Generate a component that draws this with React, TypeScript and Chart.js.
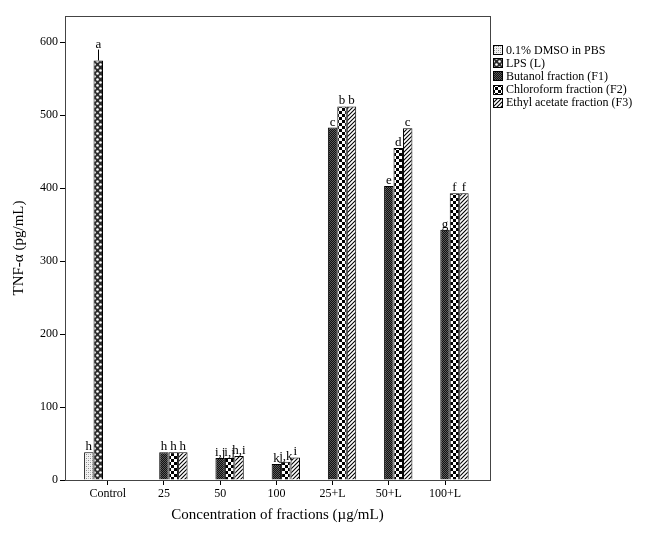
import React, { useEffect, useRef } from 'react';
import { Chart, registerables } from 'chart.js';
Chart.register(...registerables);

const categories = ['Control', '25', '50', '100', '25+L', '50+L', '100+L'];
const seriesNames = [
  '0.1% DMSO in PBS',
  'LPS (L)',
  'Butanol fraction (F1)',
  'Chloroform fraction (F2)',
  'Ethyl acetate fraction (F3)',
];
const dmsoValues = [38, null, null, null, null, null, null];
const lpsValues = [575, null, null, null, null, null, null];
const f1Values = [null, 38, 30, 22, 483, 403, 343];
const f2Values = [null, 38, 30, 25, 512, 455, 393];
const f3Values = [null, 38, 33, 31, 512, 482, 393];
const dmsoErrors = [0, 0, 0, 0, 0, 0, 0];
const lpsErrors = [15, 0, 0, 0, 0, 0, 0];
const f1Errors = [0, 0, 0, 0, 0, 0, 0];
const f2Errors = [0, 0, 0, 0, 0, 0, 0];
const f3Errors = [0, 0, 0, 0, 0, 0, 0];
const dmsoLetters = ['h', '', '', '', '', '', ''];
const lpsLetters = ['a', '', '', '', '', '', ''];
const f1Letters = ['', 'h', 'i,j', 'k', 'c', 'e', 'g'];
const f2Letters = ['', 'h', 'i,j', 'j,k', 'b', 'd', 'f'];
const f3Letters = ['', 'h', 'h,i', 'i', 'b', 'c', 'f'];
const yTickValues = [0, 100, 200, 300, 400, 500, 600];

const FONT = '"Liberation Serif", "DejaVu Serif", serif';

function makePattern(kind: string): CanvasPattern | string {
  const c = document.createElement('canvas');
  const ctx = c.getContext('2d')!;
  if (kind === 'dmso') {
    c.width = 4; c.height = 4;
    ctx.fillStyle = '#f2f2f2'; ctx.fillRect(0, 0, 4, 4);
    ctx.fillStyle = '#8a8a8a';
    ctx.fillRect(0, 0, 1, 1); ctx.fillRect(2, 2, 1, 1);
    ctx.fillStyle = '#c4c4c4';
    ctx.fillRect(2, 0, 1, 1); ctx.fillRect(0, 2, 1, 1);
  } else if (kind === 'lps') {
    c.width = 6; c.height = 6;
    ctx.fillStyle = '#2a2a2a'; ctx.fillRect(0, 0, 6, 6);
    ctx.fillStyle = '#ffffff';
    ctx.beginPath(); ctx.arc(1.5, 1.5, 1.3, 0, Math.PI * 2); ctx.fill();
    ctx.beginPath(); ctx.arc(4.5, 4.5, 1.3, 0, Math.PI * 2); ctx.fill();
  } else if (kind === 'f1') {
    c.width = 2; c.height = 2;
    ctx.fillStyle = '#111'; ctx.fillRect(0, 0, 2, 2);
    ctx.fillStyle = '#5a5a5a';
    ctx.fillRect(0, 0, 1, 1); ctx.fillRect(1, 1, 1, 1);
  } else if (kind === 'f2') {
    c.width = 6; c.height = 6;
    ctx.fillStyle = '#ffffff'; ctx.fillRect(0, 0, 6, 6);
    ctx.fillStyle = '#000';
    ctx.fillRect(0, 0, 3, 3); ctx.fillRect(3, 3, 3, 3);
  } else {
    c.width = 4; c.height = 4;
    ctx.fillStyle = '#ffffff'; ctx.fillRect(0, 0, 4, 4);
    ctx.strokeStyle = '#000'; ctx.lineWidth = 1.1;
    ctx.beginPath();
    ctx.moveTo(-1, 5); ctx.lineTo(5, -1);
    ctx.moveTo(-1, 1); ctx.lineTo(1, -1);
    ctx.moveTo(3, 5); ctx.lineTo(5, 3);
    ctx.stroke();
  }
  return ctx.createPattern(c, 'repeat') || '#888';
}

export default function App() {
  const ref = useRef<HTMLCanvasElement | null>(null);
  useEffect(() => {
    const canvas = ref.current;
    if (!canvas) return;
    const patterns = ['dmso', 'lps', 'f1', 'f2', 'f3'].map(makePattern);
    const valueSets = [dmsoValues, lpsValues, f1Values, f2Values, f3Values];
    const errorSets = [dmsoErrors, lpsErrors, f1Errors, f2Errors, f3Errors];
    const letterSets = [dmsoLetters, lpsLetters, f1Letters, f2Letters, f3Letters];

    const datasets = valueSets.map((vals, di) => ({
      label: seriesNames[di],
      data: vals.map((v, i) => ({ x: i, y: v })),
      backgroundColor: patterns[di],
      borderColor: '#000',
      borderWidth: 1,
      categoryPercentage: 0.84,
      barPercentage: 1,
    }));

    const framePlugin = {
      id: 'frame',
      afterDraw(chart: any) {
        const { ctx, chartArea: a } = chart;
        ctx.save();
        ctx.strokeStyle = '#444';
        ctx.lineWidth = 1;
        ctx.strokeRect(Math.round(a.left) + 0.5, Math.round(a.top) + 0.5, Math.round(a.right - a.left), Math.round(a.bottom - a.top));
        ctx.restore();
      },
    };

    const lettersPlugin = {
      id: 'letters',
      afterDatasetsDraw(chart: any) {
        const { ctx } = chart;
        const yScale = chart.scales.y;
        ctx.save();
        ctx.font = `13px ${FONT}`;
        ctx.fillStyle = '#000';
        ctx.textAlign = 'center';
        ctx.textBaseline = 'alphabetic';
        valueSets.forEach((vals, di) => {
          const meta = chart.getDatasetMeta(di);
          vals.forEach((v, i) => {
            if (v === null || v === undefined) return;
            const el = meta.data[i];
            if (!el) return;
            let top = el.y;
            const err = errorSets[di][i];
            if (err > 0) {
              const ye = yScale.getPixelForValue(v + err);
              ctx.strokeStyle = '#000';
              ctx.lineWidth = 1;
              ctx.beginPath();
              ctx.moveTo(Math.round(el.x) + 0.5, el.y);
              ctx.lineTo(Math.round(el.x) + 0.5, ye);
              ctx.stroke();
              top = ye;
            }
            const t = letterSets[di][i];
            if (t) ctx.fillText(t, el.x, top - 2);
          });
        });
        ctx.restore();
      },
    };

    const legendPlugin = {
      id: 'customLegend',
      afterDraw(chart: any) {
        const { ctx, chartArea: a } = chart;
        ctx.save();
        ctx.font = `12px ${FONT}`;
        ctx.textAlign = 'left';
        ctx.textBaseline = 'middle';
        const x0 = a.right + 3;
        seriesNames.forEach((name, i) => {
          const cy = 50 + i * 13.2;
          ctx.fillStyle = patterns[i] as any;
          ctx.fillRect(x0, Math.round(cy - 5), 10, 10);
          ctx.strokeStyle = '#000';
          ctx.lineWidth = 1;
          ctx.strokeRect(x0 + 0.5, Math.round(cy - 5) + 0.5, 9, 9);
          ctx.fillStyle = '#000';
          ctx.fillText(name, x0 + 13, cy + 0.5);
        });
        ctx.restore();
      },
    };

    const chart = new Chart(canvas, {
      type: 'bar',
      data: { datasets: datasets as any },
      options: {
        animation: false,
        responsive: false,
        layout: { padding: { left: 0, right: 164, top: 16, bottom: 0 } },
        plugins: { legend: { display: false }, tooltip: { enabled: false } },
        scales: {
          x: {
            type: 'linear',
            min: -0.76,
            max: 6.8,
            offset: false,
            afterBuildTicks: (scale: any) => {
              scale.ticks = categories.map((_, i) => ({ value: i }));
            },
            afterFit: (scale: any) => {
              scale.height = 57;
            },
            ticks: {
              autoSkip: false,
              maxRotation: 0,
              padding: 2,
              color: '#000',
              font: { family: FONT, size: 12 },
              callback: (v: any) => categories[v] ?? '',
            },
            grid: { drawOnChartArea: false, offset: false, tickLength: 5, color: '#000' },
            border: { display: true, color: '#000' },
            title: {
              display: true,
              text: 'Concentration of fractions (µg/mL)',
              color: '#000',
              font: { family: FONT, size: 15 },
              padding: { top: 0, bottom: 13 },
            },
          },
          y: {
            type: 'linear',
            min: 0,
            max: 636,
            afterBuildTicks: (scale: any) => {
              scale.ticks = yTickValues.map((v) => ({ value: v }));
            },
            afterFit: (scale: any) => {
              scale.width = 65;
            },
            ticks: {
              padding: 2,
              color: '#000',
              font: { family: FONT, size: 12 },
            },
            grid: { drawOnChartArea: false, tickLength: 5, color: '#000' },
            border: { display: true, color: '#000' },
            title: {
              display: true,
              text: 'TNF-α (pg/mL)',
              color: '#000',
              font: { family: FONT, size: 15 },
              padding: { top: 10, bottom: 0 },
            },
          },
        },
      },
      plugins: [framePlugin, lettersPlugin, legendPlugin],
    } as any);
    return () => chart.destroy();
  }, []);

  return (
    <div style={{ position: 'absolute', left: 0, top: 0, width: 654, height: 537, background: '#fff' }}>
      <canvas ref={ref} width={654} height={537} style={{ width: 654, height: 537, display: 'block' }} />
    </div>
  );
}
